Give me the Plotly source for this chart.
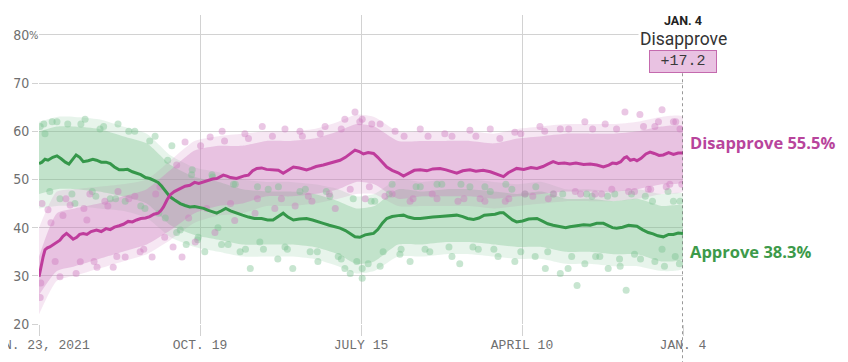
import pandas as pd
import plotly.graph_objects as go

START = "2021-01-23"

# ---- trend lines (day offset from START, value %) ----
dis_days = [0, 4, 7, 10, 14, 18, 23, 28, 35, 40, 46, 51, 57, 63, 68, 74, 80, 87, 96, 104, 112, 119, 126, 134, 141, 149, 156, 163, 170, 178, 185, 192, 199, 204, 208, 214, 219, 226, 236, 244, 252, 260, 267, 275, 283, 290, 297, 303, 308, 314, 320, 330, 338, 344, 350, 357, 364, 372, 380, 391, 400, 408, 415, 425, 435, 447, 455, 463, 475, 485, 495, 503, 512, 520, 528, 535, 542, 550, 559, 566, 574, 581, 590, 600, 609, 617, 627, 637, 648, 658, 670, 680, 690, 698, 708, 720, 730, 742, 754, 764, 772, 776, 784, 791, 798, 810, 822, 832, 842, 850, 859, 868, 878, 887, 897, 910, 921, 932, 943, 952, 958, 965, 972, 978, 982, 988, 994, 999, 1006, 1014, 1021, 1028, 1036, 1043, 1052, 1060, 1068, 1076]
dis_vals = [29.8, 32.5, 34.0, 35.4, 35.8, 36.0, 36.4, 36.9, 37.4, 38.2, 38.8, 38.3, 37.6, 38.0, 38.6, 38.8, 38.6, 39.2, 39.5, 39.2, 39.8, 39.6, 40.1, 40.4, 40.7, 41.3, 41.2, 41.6, 41.9, 42.0, 42.3, 42.8, 43.0, 43.6, 44.3, 45.8, 46.8, 47.5, 48.2, 48.6, 48.8, 49.4, 49.2, 49.5, 49.9, 50.1, 50.2, 50.6, 50.9, 50.7, 50.4, 50.2, 50.6, 50.8, 50.9, 51.8, 52.3, 52.4, 52.1, 52.0, 51.9, 51.3, 51.8, 52.6, 52.4, 52.0, 52.3, 52.7, 53.0, 53.4, 53.7, 54.0, 54.6, 55.3, 56.1, 55.8, 55.3, 55.6, 55.4, 54.6, 53.6, 52.6, 51.9, 51.4, 50.7, 51.3, 51.9, 52.0, 51.8, 52.2, 52.3, 52.0, 51.6, 51.3, 51.8, 52.0, 51.7, 51.9, 51.6, 51.2, 50.8, 50.6, 51.4, 51.9, 52.3, 52.1, 52.5, 52.3, 52.7, 53.2, 53.7, 53.3, 53.4, 53.2, 53.4, 53.1, 53.2, 53.0, 52.6, 53.0, 53.4, 53.3, 53.7, 54.5, 54.7, 54.0, 54.2, 53.9, 54.4, 55.3, 55.7, 55.4, 55.0, 55.1, 55.6, 55.2, 55.5, 55.5]

app_days = [0, 5, 10, 15, 23, 30, 37, 44, 50, 57, 62, 68, 74, 82, 90, 96, 104, 112, 119, 126, 134, 141, 148, 156, 163, 170, 178, 185, 192, 199, 205, 210, 215, 219, 226, 236, 244, 252, 260, 268, 275, 283, 290, 297, 305, 312, 320, 330, 340, 350, 360, 372, 382, 391, 400, 408, 416, 425, 435, 447, 457, 466, 475, 485, 495, 503, 512, 520, 528, 536, 545, 553, 559, 566, 574, 581, 590, 600, 609, 617, 627, 637, 648, 658, 670, 680, 690, 698, 708, 716, 726, 735, 744, 754, 762, 770, 776, 784, 791, 798, 808, 818, 832, 842, 850, 859, 870, 880, 887, 897, 910, 921, 932, 943, 952, 958, 965, 975, 985, 993, 999, 1008, 1018, 1026, 1034, 1043, 1052, 1060, 1068, 1076]
app_vals = [53.3, 53.6, 54.2, 54.0, 54.6, 54.9, 54.3, 53.6, 53.2, 54.3, 55.1, 54.6, 53.7, 53.9, 54.2, 54.0, 53.6, 53.6, 53.3, 52.6, 52.0, 52.0, 52.1, 51.6, 51.3, 51.0, 50.4, 50.2, 49.8, 49.4, 48.6, 47.8, 47.0, 46.4, 45.8, 45.0, 44.6, 44.3, 44.4, 44.2, 44.0, 43.6, 43.3, 43.0, 43.5, 44.0, 43.5, 43.0, 42.6, 42.2, 41.9, 41.9, 41.6, 41.6, 42.3, 43.0, 42.2, 41.6, 41.8, 41.9, 41.6, 41.3, 40.9, 40.5, 40.2, 39.9, 39.4, 38.8, 38.1, 38.0, 38.5, 38.7, 38.8, 39.6, 41.0, 41.9, 42.3, 42.5, 42.6, 42.2, 41.9, 41.9, 42.1, 42.2, 42.3, 42.4, 42.5, 42.6, 42.3, 41.9, 41.7, 42.0, 42.6, 42.7, 42.8, 43.1, 43.1, 42.3, 41.6, 41.2, 41.4, 41.8, 41.9, 41.3, 40.8, 40.5, 40.3, 40.0, 40.2, 40.4, 40.6, 40.5, 40.9, 40.9, 40.4, 40.0, 39.9, 40.1, 40.5, 40.3, 40.3, 39.6, 39.0, 38.7, 38.3, 38.1, 38.6, 38.6, 38.9, 38.8]

# ---- poll clouds: dense core and fuzzy outer edge (envelopes) ----
band_days = [0, 30, 60, 100, 140, 180, 220, 260, 300, 340, 380, 420, 460, 500, 530, 560, 600, 640, 680, 720, 760, 800, 840, 880, 920, 960, 1000, 1040, 1076]
dis_lo = [26.0, 31.0, 32.0, 33.5, 35.0, 36.5, 39.5, 43.0, 44.5, 45.0, 46.5, 46.5, 47.0, 48.0, 49.5, 49.0, 46.0, 46.5, 46.5, 46.5, 46.0, 46.5, 47.0, 47.5, 47.5, 47.5, 48.0, 49.0, 49.5]
dis_hi = [34.0, 43.0, 44.0, 45.0, 46.5, 48.0, 52.0, 56.0, 57.0, 57.0, 58.0, 58.0, 58.5, 60.0, 61.5, 61.0, 58.0, 58.0, 58.0, 58.0, 57.5, 58.5, 59.0, 59.5, 59.5, 59.5, 60.0, 61.0, 61.0]
dis_lo2 = [22.0, 29.0, 30.0, 31.5, 33.0, 34.5, 37.5, 41.0, 42.5, 43.0, 44.5, 44.5, 45.0, 46.0, 47.0, 47.0, 44.5, 44.5, 44.5, 44.5, 44.0, 44.5, 45.0, 45.5, 45.5, 45.5, 46.0, 47.0, 47.5]
dis_hi2 = [40.0, 47.5, 48.0, 48.5, 49.0, 50.0, 54.0, 58.0, 59.0, 59.5, 60.0, 60.0, 60.5, 62.0, 63.5, 63.0, 60.0, 60.0, 60.0, 60.0, 59.5, 60.5, 61.0, 61.5, 61.5, 61.5, 62.0, 63.0, 63.0]
app_lo = [47.0, 48.0, 48.0, 47.5, 46.5, 45.0, 40.5, 38.5, 37.5, 36.5, 36.5, 36.5, 36.0, 34.5, 32.5, 33.0, 36.5, 36.5, 37.0, 37.0, 36.5, 36.0, 36.0, 35.0, 35.0, 34.5, 34.5, 33.0, 33.5]
app_hi = [60.0, 61.0, 61.0, 60.5, 59.0, 57.5, 53.0, 50.5, 49.5, 48.0, 47.5, 47.5, 47.0, 45.5, 44.0, 44.5, 48.0, 47.5, 48.0, 48.0, 47.5, 47.0, 47.5, 46.0, 46.0, 45.5, 46.0, 44.5, 44.5]
app_lo2 = [44.0, 44.5, 44.5, 44.0, 43.5, 42.0, 38.0, 36.0, 35.0, 34.0, 34.0, 34.0, 33.5, 32.0, 30.5, 31.0, 34.0, 34.0, 34.5, 34.5, 34.0, 33.5, 33.5, 32.5, 32.5, 32.0, 32.0, 31.0, 31.5]
app_hi2 = [62.0, 63.0, 63.0, 62.5, 61.0, 59.5, 55.0, 52.5, 51.5, 50.0, 49.5, 49.5, 49.0, 48.0, 46.5, 47.0, 50.0, 49.5, 50.0, 50.0, 49.5, 49.0, 49.5, 48.0, 48.0, 47.5, 48.0, 47.0, 47.0]

# ---- individual polls outside the dense cloud ----
dis_pt_days = [2, 3, 5, 15, 27, 35, 45, 52, 69, 80, 85, 97, 110, 124, 132, 144, 160, 169, 189, 202, 224, 239, 244, 261, 286, 294, 306, 327, 344, 361, 373, 394, 411, 428, 436, 456, 478, 495, 511, 528, 536, 545, 556, 578, 595, 620, 637, 657, 678, 700, 720, 737, 754, 779, 795, 812, 837, 851, 871, 896, 912, 929, 946, 957, 979, 995, 1004, 1018, 1029, 1041, 1054, 1064, 1071,
               20, 40, 62, 75, 92, 115, 130, 150, 175, 195, 210, 230, 250, 270, 280, 310, 320, 350, 365, 390, 405, 440, 450, 470, 485, 505, 520, 540, 552, 570, 590, 610, 625, 650, 665, 690, 710, 730, 745, 770, 785, 805, 825, 845, 860, 885, 905, 925, 940, 965, 985, 1010, 1022, 1035, 1048, 1060, 1074]
dis_pt_vals = [25.5, 28.5, 45.0, 43.7, 33.0, 29.8, 46.0, 44.7, 32.9, 41.6, 47.0, 31.8, 45.5, 31.8, 47.5, 33.9, 46.5, 35.0, 33.9, 48.5, 36.0, 33.9, 57.8, 37.0, 58.8, 39.0, 60.0, 41.5, 59.5, 43.0, 61.0, 44.0, 60.5, 44.5, 60.0, 45.5, 61.0, 44.0, 62.5, 64.0, 62.0, 46.0, 61.5, 46.5, 60.0, 45.5, 60.5, 47.0, 59.5, 45.5, 60.2, 46.0, 60.5, 45.5, 59.8, 47.0, 61.0, 46.0, 60.5, 47.5, 62.0, 47.0, 61.5, 48.0, 64.0, 47.5, 63.5, 48.0, 61.0, 64.5, 49.0, 62.0, 60.5,
               41.0, 42.5, 30.5, 44.0, 33.0, 44.5, 34.0, 46.0, 35.5, 47.0, 38.0, 53.0, 42.0, 57.0, 44.0, 58.0, 45.0, 58.5, 46.0, 59.0, 46.0, 59.0, 46.5, 59.5, 47.0, 60.5, 48.0, 62.5, 48.5, 61.5, 47.0, 59.0, 46.0, 59.0, 46.0, 59.0, 46.0, 59.0, 45.5, 58.5, 46.0, 59.5, 46.5, 60.0, 47.0, 60.5, 47.0, 60.5, 47.0, 60.5, 47.5, 61.0, 48.0, 62.0, 48.5, 62.0, 49.0]

app_pt_days = [2, 10, 22, 35, 48, 60, 77, 89, 102, 119, 132, 144, 160, 177, 194, 211, 222, 236, 246, 256, 266, 277, 289, 299, 316, 328, 336, 353, 369, 383, 399, 411, 424, 436, 453, 466, 486, 500, 511, 520, 531, 540, 550, 561, 575, 590, 603, 620, 637, 653, 673, 690, 703, 720, 734, 754, 767, 780, 795, 812, 829, 846, 859, 871, 884, 899, 912, 924, 937, 951, 962, 971, 981, 995, 1013, 1029, 1041, 1051, 1063, 1071,
               8, 18, 30, 55, 70, 95, 108, 128, 150, 170, 185, 200, 215, 230, 255, 265, 290, 305, 325, 345, 365, 375, 400, 415, 445, 465, 480, 505, 525, 540, 555, 570, 585, 605, 630, 645, 665, 685, 705, 725, 745, 760, 790, 805, 830, 850, 875, 890, 915, 930, 950, 970, 990, 1005, 1025, 1045, 1060, 1070]
app_pt_vals = [61.0, 59.5, 62.0, 46.0, 61.5, 45.0, 62.5, 47.5, 60.5, 46.0, 61.5, 45.5, 60.0, 44.0, 59.0, 42.0, 57.0, 39.5, 36.5, 52.0, 38.0, 35.0, 51.0, 40.0, 36.5, 49.0, 35.0, 31.5, 37.0, 48.0, 33.5, 36.0, 31.5, 47.5, 35.0, 33.0, 46.5, 34.0, 31.5, 30.5, 33.0, 29.5, 32.5, 45.5, 35.0, 49.0, 34.5, 33.0, 48.5, 35.0, 49.0, 34.0, 32.5, 48.5, 35.5, 47.5, 34.0, 49.0, 33.0, 47.0, 34.0, 31.5, 47.0, 30.5, 31.5, 28.0, 32.5, 46.5, 34.0, 31.5, 47.0, 32.0, 27.0, 34.5, 46.5, 33.0, 35.5, 47.5, 34.0, 45.5,
               61.5, 47.5, 62.0, 47.0, 61.5, 46.5, 61.0, 46.0, 60.0, 44.5, 58.0, 43.0, 54.0, 39.0, 51.0, 37.5, 50.5, 36.5, 49.0, 35.5, 48.5, 35.5, 48.5, 35.5, 48.0, 35.0, 47.5, 33.5, 46.0, 31.5, 45.5, 32.0, 47.0, 35.5, 48.5, 35.5, 49.0, 36.0, 49.0, 36.0, 48.5, 35.5, 48.0, 35.0, 48.5, 35.0, 47.0, 34.0, 47.0, 34.0, 46.5, 33.5, 47.0, 33.5, 45.5, 32.0, 45.5, 32.5]

# ---- axis ticks / labels ----
x_tick_dates = ["2021-01-23", "2021-10-19", "2022-07-15", "2023-04-10", "2024-01-04"]
x_tick_text = ["JAN. 23, 2021", "OCT. 19", "JULY 15", "APRIL 10", "JAN. 4"]
y_tick_vals = [20, 30, 40, 50, 60, 70, 80]
y_tick_text = ["20", "30", "40", "50", "60", "70", "80"]

end_label = "JAN. 4"
lead_name = "Disapprove"
lead_margin = "+17.2"
dis_label = "Disapprove 55.5%"
app_label = "Approve 38.3%"

PINK_LINE = "#bf3c9c"
GREEN_LINE = "#35974a"
PINK_CORE = "rgba(206,122,190,0.34)"
GREEN_CORE = "rgba(122,192,142,0.34)"
PINK_EDGE = "rgba(206,122,190,0.18)"
GREEN_EDGE = "rgba(122,192,142,0.18)"
PINK_DOT = "rgba(206,122,190,0.42)"
GREEN_DOT = "rgba(122,192,142,0.42)"


def to_dates(days):
    return pd.Timestamp(START) + pd.to_timedelta(days, unit="D")


fig = go.Figure()

bd = list(to_dates(band_days))
for lo, hi, col in [(app_lo2, app_hi2, GREEN_EDGE), (dis_lo2, dis_hi2, PINK_EDGE),
                    (app_lo, app_hi, GREEN_CORE), (dis_lo, dis_hi, PINK_CORE)]:
    fig.add_trace(go.Scatter(
        x=bd + bd[::-1], y=hi + lo[::-1], fill="toself", fillcolor=col,
        line=dict(width=0, shape="spline", smoothing=0.6), mode="lines",
        hoverinfo="skip", showlegend=False))

fig.add_trace(go.Scatter(x=to_dates(app_pt_days), y=app_pt_vals, mode="markers",
                         marker=dict(size=7, color=GREEN_DOT), showlegend=False))
fig.add_trace(go.Scatter(x=to_dates(dis_pt_days), y=dis_pt_vals, mode="markers",
                         marker=dict(size=7, color=PINK_DOT), showlegend=False))

fig.add_trace(go.Scatter(x=to_dates(app_days), y=app_vals, mode="lines",
                         line=dict(color=GREEN_LINE, width=3), showlegend=False))
fig.add_trace(go.Scatter(x=to_dates(dis_days), y=dis_vals, mode="lines",
                         line=dict(color=PINK_LINE, width=3), showlegend=False))

GRID = "#d2d2d2"
fig.update_xaxes(
    range=[x_tick_dates[0], x_tick_dates[-1]], tickvals=x_tick_dates, ticktext=x_tick_text,
    showgrid=True, gridcolor=GRID, gridwidth=1, zeroline=False, showline=False,
    ticks="outside", ticklen=11, tickcolor=GRID, tickwidth=1, automargin=False,
    ticklabeloverflow="allow", ticklabelstandoff=-3,
    tickfont=dict(family="Liberation Mono, DejaVu Sans Mono, monospace", size=13, color="#6f6f6f"),
)
fig.update_yaxes(
    range=[20, 84.15], tickvals=y_tick_vals, ticktext=y_tick_text,
    showgrid=True, gridcolor=GRID, gridwidth=1, zeroline=False, showline=False,
    ticks="outside", ticklen=6, tickcolor=GRID, automargin=False,
    ticklabeloverflow="allow",
    tickfont=dict(family="Liberation Sans Narrow, DejaVu Sans Condensed, Roboto, sans-serif", size=14, color="#6f6f6f"),
)

end_date = x_tick_dates[-1]
fig.add_shape(type="line", xref="x", yref="paper", x0=end_date, x1=end_date,
              y0=-0.13, y1=0.815, line=dict(color="#555555", width=1.2, dash="dot"), layer="above")

fig.add_annotation(x=0, xref="paper", y=80, yref="y", text="%", showarrow=False,
                   xanchor="right", yanchor="middle", xshift=1, yshift=-1,
                   font=dict(family="Liberation Sans Narrow, DejaVu Sans Condensed, sans-serif", size=11, color="#6f6f6f"))

fig.add_annotation(x=end_date, xref="x", y=0.981, yref="paper", text="<b>%s</b>" % end_label,
                   showarrow=False, xanchor="center", yanchor="middle",
                   font=dict(family="Roboto, sans-serif", size=12.5, color="#222222"))
fig.add_annotation(x=end_date, xref="x", y=0.922, yref="paper", text=lead_name, showarrow=False,
                   xanchor="center", yanchor="middle", bgcolor="white",
                   font=dict(family="Roboto, sans-serif", size=17.5, color="#333333"))
fig.add_annotation(x=end_date, xref="x", y=0.848, yref="paper", text=lead_margin, showarrow=False,
                   xanchor="center", yanchor="middle",
                   bgcolor="#e9c2e2", bordercolor="#c46aae", borderwidth=1, borderpad=2,
                   width=62,
                   font=dict(family="Liberation Mono, DejaVu Sans Mono, monospace", size=15, color="#3a3a3a"))

fig.add_annotation(x=1.0, xref="paper", y=57.7, yref="y", text="<b>%s</b>" % dis_label, showarrow=False,
                   xanchor="left", yanchor="middle", xshift=5,
                   font=dict(family="Open Sans, Roboto, sans-serif", size=16.5, color="#b8449c"))
fig.add_annotation(x=1.0, xref="paper", y=35.1, yref="y", text="<b>%s</b>" % app_label, showarrow=False,
                   xanchor="left", yanchor="middle", xshift=5,
                   font=dict(family="Open Sans, Roboto, sans-serif", size=16.5, color="#3d9a4a"))

# page body adds an 8px offset; margins compensate so the plot area sits at x 39-683, y 15-324
fig.update_layout(
    width=840, height=354, margin=dict(l=31, r=165, t=7, b=38),
    paper_bgcolor="white", plot_bgcolor="white", showlegend=False,
)

fig.write_html("out.html")
